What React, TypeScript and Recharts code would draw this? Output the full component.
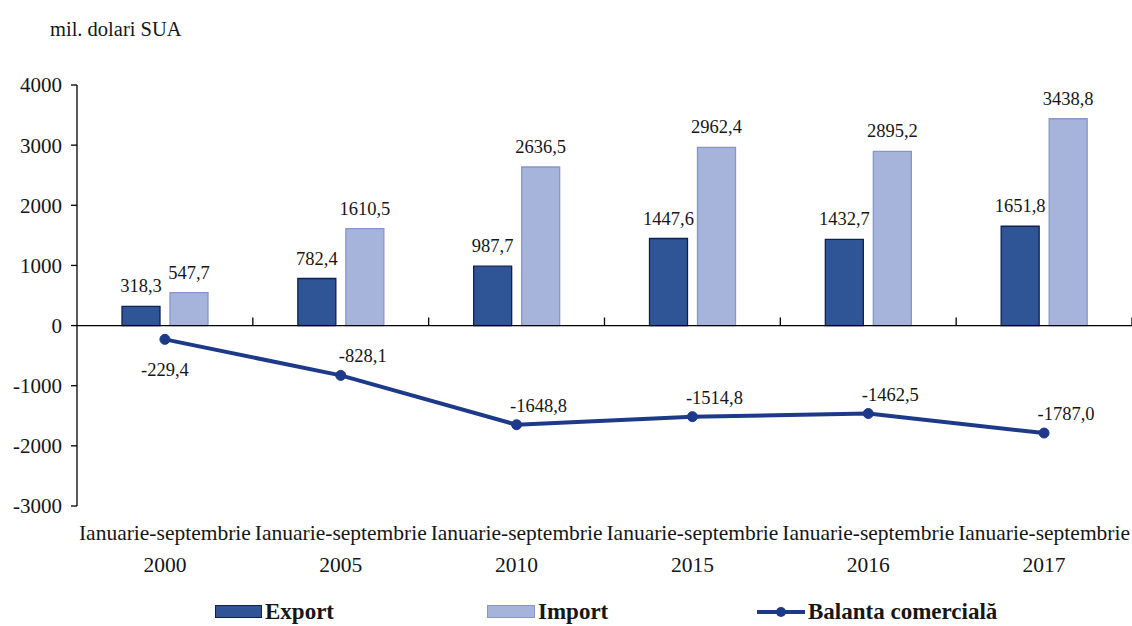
import React from 'react';
import {
  ComposedChart,
  Bar,
  Line,
  XAxis,
  YAxis,
  ReferenceLine,
  LabelList,
} from 'recharts';

const periods = [
  'Ianuarie-septembrie 2000',
  'Ianuarie-septembrie 2005',
  'Ianuarie-septembrie 2010',
  'Ianuarie-septembrie 2015',
  'Ianuarie-septembrie 2016',
  'Ianuarie-septembrie 2017',
];
const exportValues = [318.3, 782.4, 987.7, 1447.6, 1432.7, 1651.8];
const importValues = [547.7, 1610.5, 2636.5, 2962.4, 2895.2, 3438.8];
const balanceValues = [-229.4, -828.1, -1648.8, -1514.8, -1462.5, -1787.0];
const yTicks = [-3000, -2000, -1000, 0, 1000, 2000, 3000, 4000];

const data = periods.map((p, i) => ({
  period: p,
  export: exportValues[i],
  import: importValues[i],
  balance: balanceValues[i],
}));

const FONT = 'Liberation Serif, Tinos, Times New Roman, serif';
const TEXT = '#161616';
const EXPORT_FILL = '#2f5597';
const EXPORT_STROKE = '#0f2150';
const IMPORT_FILL = '#a6b4db';
const IMPORT_STROKE = '#8797c6';
const LINE_COLOR = '#1d3a8a';

const fmt = (v: number) => v.toFixed(1).replace('.', ',');

const PeriodTick = ({ x, y, payload }: any) => {
  const parts = String(payload.value).split(' ');
  return (
    <text x={x} y={y} textAnchor="middle" fontFamily={FONT} fontSize={21.5} fill={TEXT}>
      <tspan x={x} dy={26}>{parts[0]}</tspan>
      <tspan x={x} dy={32}>{parts[1]}</tspan>
    </text>
  );
};

// axis through zero with the small category-boundary ticks above it
const ZeroLine = (props: any) => {
  const { x1, x2, y1 } = props;
  const n = periods.length;
  const step = (x2 - x1) / n;
  return (
    <g>
      <line x1={x1} x2={x2} y1={y1} y2={y1} stroke="#000" strokeWidth={1.3} />
      {periods.map((_, i) => (
        <line key={i} x1={x1 + step * (i + 1)} x2={x1 + step * (i + 1)} y1={y1} y2={y1 - 8} stroke="#000" strokeWidth={1.3} />
      ))}
    </g>
  );
};

const BalanceLabel = (props: any) => {
  const { x, y, value, index } = props;
  const first = index === 0;
  return (
    <text
      x={first ? x : x + 22}
      y={first ? y + 37 : y - 13}
      textAnchor="middle"
      fontFamily={FONT}
      fontSize={18.5}
      fill={TEXT}
    >
      {fmt(value)}
    </text>
  );
};

const LegendRow = () => (
  <div style={{ position: 'absolute', top: 597, left: 0, width: 1132, height: 29, fontFamily: FONT, fontWeight: 'bold', fontSize: 23, color: TEXT, lineHeight: '29px' }}>
    <div style={{ position: 'absolute', left: 215, top: 0, display: 'flex', alignItems: 'center', whiteSpace: 'nowrap' }}>
      <span style={{ display: 'inline-block', width: 45, height: 11, background: EXPORT_FILL, border: `1px solid ${EXPORT_STROKE}`, marginRight: 3 }} />
      Export
    </div>
    <div style={{ position: 'absolute', left: 487, top: 0, display: 'flex', alignItems: 'center', whiteSpace: 'nowrap' }}>
      <span style={{ display: 'inline-block', width: 46, height: 11, background: IMPORT_FILL, border: `1px solid ${IMPORT_STROKE}`, marginRight: 3 }} />
      Import
    </div>
    <div style={{ position: 'absolute', left: 757, top: 0, display: 'flex', alignItems: 'center', whiteSpace: 'nowrap' }}>
      <svg width={48} height={14} style={{ marginRight: 3 }}>
        <line x1={0} x2={48} y1={7} y2={7} stroke={LINE_COLOR} strokeWidth={4} />
        <circle cx={24} cy={7} r={5} fill={LINE_COLOR} />
      </svg>
      Balanta comercială
    </div>
  </div>
);

export default function App() {
  return (
    <div style={{ position: 'absolute', left: 0, top: 0, width: 1132, height: 626, background: '#fff', overflow: 'hidden' }}>
      <div style={{ position: 'absolute', left: 50, top: 18, fontFamily: FONT, fontSize: 20.5, color: TEXT }}>
        mil. dolari SUA
      </div>
      <ComposedChart
        width={1132}
        height={626}
        data={data}
        margin={{ top: 85, right: 0, bottom: 60, left: 0 }}
        barSize={38}
        barGap={10}
      >
        <XAxis
          dataKey="period"
          axisLine={false}
          tickLine={false}
          interval={0}
          height={60}
          tick={<PeriodTick />}
        />
        <YAxis
          domain={[-3000, 4000]}
          ticks={yTicks}
          interval={0}
          width={77}
          axisLine={{ stroke: '#000', strokeWidth: 1.3 }}
          tickLine={{ stroke: '#000', strokeWidth: 1.3 }}
          tickSize={6}
          tickMargin={9}
          tick={{ fontFamily: FONT, fontSize: 21, fill: TEXT }}
        />
        <Bar dataKey="export" name="Export" fill={EXPORT_FILL} stroke={EXPORT_STROKE} strokeWidth={1.3} isAnimationActive={false}>
          <LabelList dataKey="export" position="top" offset={14} formatter={(v: any) => fmt(Number(v))} style={{ fontFamily: FONT, fontSize: 18.5, fill: TEXT }} />
        </Bar>
        <Bar dataKey="import" name="Import" fill={IMPORT_FILL} stroke={IMPORT_STROKE} strokeWidth={1.3} isAnimationActive={false}>
          <LabelList dataKey="import" position="top" offset={14} formatter={(v: any) => fmt(Number(v))} style={{ fontFamily: FONT, fontSize: 18.5, fill: TEXT }} />
        </Bar>
        <ReferenceLine y={0} shape={<ZeroLine />} />
        <Line
          dataKey="balance"
          name="Balanta comercială"
          stroke={LINE_COLOR}
          strokeWidth={4}
          dot={{ r: 5, fill: LINE_COLOR, stroke: LINE_COLOR, strokeWidth: 1 }}
          isAnimationActive={false}
        >
          <LabelList dataKey="balance" content={<BalanceLabel />} />
        </Line>
      </ComposedChart>
      <LegendRow />
    </div>
  );
}
